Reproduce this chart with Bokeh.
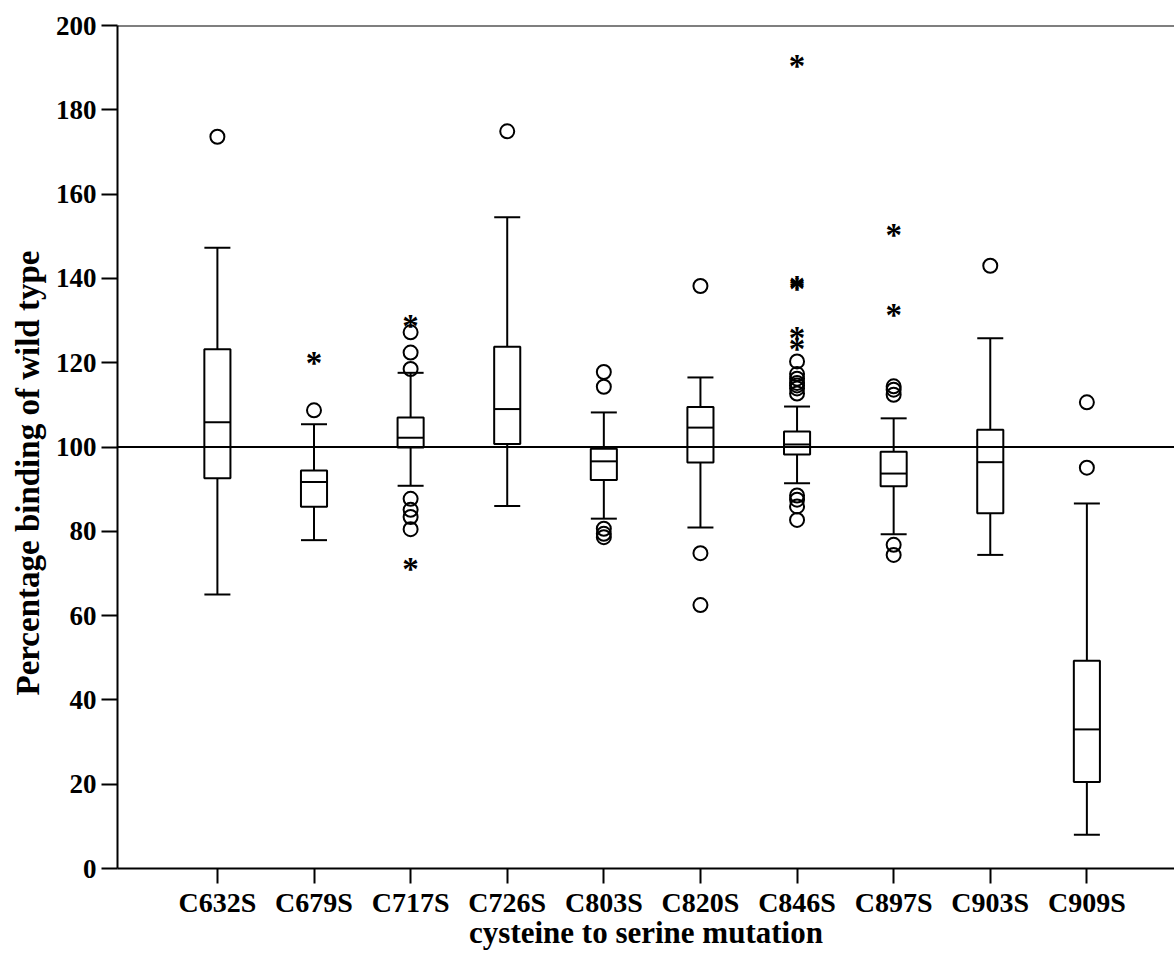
from bokeh.plotting import figure
from bokeh.models import Span, FixedTicker, Range1d, Title
from bokeh.core.properties import value
from bokeh.embed import file_html
from bokeh.resources import INLINE

# ---- data -------------------------------------------------------------
categories = ["C632S", "C679S", "C717S", "C726S", "C803S",
              "C820S", "C846S", "C897S", "C903S", "C909S"]
positions = [1, 2, 3, 4, 5, 6, 7, 8, 9, 10]

whisker_low = [65.0, 77.9, 90.8, 86.0, 83.0, 80.9, 91.4, 79.3, 74.4, 8.0]
q1 = [92.6, 85.8, 99.9, 100.7, 92.2, 96.3, 98.2, 90.7, 84.3, 20.5]
median = [105.9, 91.7, 102.2, 109.0, 96.6, 104.6, 100.6, 93.7, 96.4, 33.0]
q3 = [123.2, 94.4, 107.0, 123.8, 99.6, 109.5, 103.7, 98.9, 104.1, 49.3]
whisker_high = [147.3, 105.4, 117.6, 154.5, 108.2, 116.5, 109.6, 106.8, 125.8, 86.6]

# outliers (circles)
outlier_pos = [1,
               2,
               3, 3, 3, 3, 3, 3, 3,
               4,
               5, 5, 5, 5, 5,
               6, 6, 6,
               7, 7, 7, 7, 7, 7, 7, 7, 7, 7, 7,
               8, 8, 8, 8, 8,
               9,
               10, 10]
outlier_val = [173.6,
               108.7,
               127.2, 122.4, 118.5, 87.7, 85.1, 83.4, 80.5,
               174.9,
               117.8, 114.3, 80.6, 79.4, 78.6,
               138.2, 74.8, 62.5,
               120.3, 117.3, 116.2, 115.2, 114.6, 113.9, 112.7, 88.5, 87.5, 85.9, 82.7,
               114.4, 113.6, 112.4, 76.8, 74.4,
               143.0,
               110.6, 95.1]

# extreme values (asterisks)
extreme_pos = [2, 3, 3, 7, 7, 7, 7, 7, 8, 8]
extreme_val = [120.8, 129.7, 72.0, 191.3, 139.0, 138.5, 126.9, 124.1, 151.3, 132.3]

reference_level = 100
x_title = "cysteine to serine mutation"
y_title = "Percentage binding of wild type"

# ---- figure -----------------------------------------------------------
SERIF = "Liberation Serif"
BOX_W = 0.27

p = figure(width=1174, height=953, output_backend="svg", toolbar_location=None,
           x_range=Range1d(-0.034, 10.907), y_range=Range1d(0, 200),
           min_border_left=116, min_border_right=0,
           min_border_top=25, min_border_bottom=85,
           background_fill_color="white", border_fill_color="white")
p.outline_line_color = None
p.grid.visible = False

# axes
p.yaxis.ticker = FixedTicker(ticks=list(range(0, 201, 20)))
p.xaxis.ticker = FixedTicker(ticks=positions)
p.xaxis.major_label_overrides = {pos: name for pos, name in zip(positions, categories)}
for ax in (p.xaxis[0], p.yaxis[0]):
    ax.axis_line_width = 2
    ax.axis_line_color = "black"
    ax.major_tick_line_width = 2
    ax.major_tick_line_color = "black"
    ax.minor_tick_line_color = None
    ax.major_tick_in = 0
    ax.major_label_text_font = SERIF
    ax.major_label_text_font_style = "bold"
    ax.major_label_text_color = "black"
    ax.axis_label_text_font = SERIF
    ax.axis_label_text_font_style = "bold"
    ax.axis_label_text_color = "black"

p.yaxis.major_tick_out = 16
p.yaxis.major_label_standoff = 5
p.yaxis.major_label_text_font_size = "27px"

p.xaxis.major_tick_out = 15
p.xaxis.major_label_standoff = 3
p.xaxis.major_label_text_font_size = "28px"
p.xaxis.axis_label = x_title
p.xaxis.axis_label_text_font_size = "31px"
p.xaxis.axis_label_standoff = -6

# y-axis title as a side title so that it can be shifted along the axis
p.add_layout(Title(text=y_title, align="left", offset=173, standoff=14,
                   text_font=SERIF, text_font_style="bold", text_font_size="33px",
                   text_color="black"), "left")

# top border line and reference line at 100 %
p.add_layout(Span(location=200, dimension="width", line_color="black", line_width=2))
p.add_layout(Span(location=reference_level, dimension="width", line_color="black", line_width=2))

# whiskers
p.segment(x0=positions, y0=q3, x1=positions, y1=whisker_high, line_color="black", line_width=2)
p.segment(x0=positions, y0=q1, x1=positions, y1=whisker_low, line_color="black", line_width=2)
# whisker caps
p.scatter(x=positions, y=whisker_high, marker="dash", size=26, line_color="black", line_width=2)
p.scatter(x=positions, y=whisker_low, marker="dash", size=26, line_color="black", line_width=2)
# boxes
p.vbar(x=positions, width=BOX_W, top=q3, bottom=q1, fill_color="white",
       line_color="black", line_width=2)
# medians
p.scatter(x=positions, y=median, marker="dash", size=26, line_color="black", line_width=2)

# outliers
p.scatter(x=outlier_pos, y=outlier_val, marker="circle", size=14, fill_color=None,
          line_color="black", line_width=2)
# extremes
p.text(x=extreme_pos, y=extreme_val, text=["*"] * len(extreme_pos),
       text_font=value(SERIF), text_font_style="bold", text_font_size="33px",
       text_align="center", text_baseline="middle", y_offset=4, text_color="black")

open("out.html", "w").write(file_html(p, INLINE))
